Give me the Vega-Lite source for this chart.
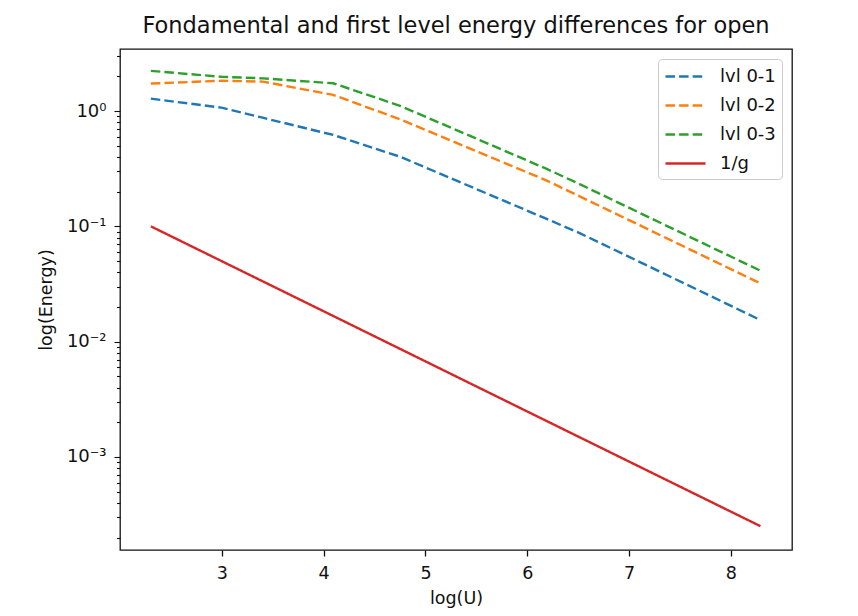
{
  "$schema": "https://vega.github.io/schema/vega-lite/v6.json",
  "width": 672,
  "height": 501,
  "autosize": {"type": "none"},
  "padding": {"left": 120, "top": 49, "right": 66, "bottom": 66},
  "background": "white",
  "title": {
    "text": "Fondamental and first level energy differences for open",
    "font": "DejaVu Sans",
    "fontSize": 22.5,
    "fontWeight": "normal",
    "color": "#111",
    "anchor": "middle",
    "baseline": "alphabetic",
    "offset": -9
  },
  "config": {
    "font": "DejaVu Sans",
    "view": {"stroke": "#111", "strokeWidth": 1.3}
  },
  "data": {
    "values": [
      {"series": "lvl 0-1", "x": 2.303, "y": 1.28},
      {"series": "lvl 0-1", "x": 2.996, "y": 1.07},
      {"series": "lvl 0-1", "x": 3.401, "y": 0.875},
      {"series": "lvl 0-1", "x": 4.094, "y": 0.62},
      {"series": "lvl 0-1", "x": 4.75, "y": 0.402},
      {"series": "lvl 0-1", "x": 6.18, "y": 0.117},
      {"series": "lvl 0-1", "x": 6.52, "y": 0.0869},
      {"series": "lvl 0-1", "x": 8.29, "y": 0.0154},
      {"series": "lvl 0-2", "x": 2.303, "y": 1.73},
      {"series": "lvl 0-2", "x": 2.996, "y": 1.83},
      {"series": "lvl 0-2", "x": 3.401, "y": 1.8},
      {"series": "lvl 0-2", "x": 4.094, "y": 1.38},
      {"series": "lvl 0-2", "x": 4.75, "y": 0.847},
      {"series": "lvl 0-2", "x": 6.18, "y": 0.252},
      {"series": "lvl 0-2", "x": 6.52, "y": 0.181},
      {"series": "lvl 0-2", "x": 8.29, "y": 0.032},
      {"series": "lvl 0-3", "x": 2.303, "y": 2.23},
      {"series": "lvl 0-3", "x": 2.996, "y": 1.98},
      {"series": "lvl 0-3", "x": 3.401, "y": 1.92},
      {"series": "lvl 0-3", "x": 4.094, "y": 1.74},
      {"series": "lvl 0-3", "x": 4.75, "y": 1.11},
      {"series": "lvl 0-3", "x": 6.18, "y": 0.318},
      {"series": "lvl 0-3", "x": 6.52, "y": 0.231},
      {"series": "lvl 0-3", "x": 8.29, "y": 0.0412},
      {"series": "1/g", "x": 2.303, "y": 0.1},
      {"series": "1/g", "x": 4.094, "y": 0.0167},
      {"series": "1/g", "x": 6.18, "y": 0.00207},
      {"series": "1/g", "x": 8.29, "y": 0.000251}
    ]
  },
  "mark": {"type": "line", "strokeWidth": 2.4, "clip": true},
  "encoding": {
    "x": {
      "field": "x",
      "type": "quantitative",
      "scale": {"domain": [2.0, 8.6], "nice": false, "zero": false},
      "axis": {
        "values": [3, 4, 5, 6, 7, 8],
        "grid": false,
        "domain": false,
        "tickColor": "#111",
        "tickSize": 6,
        "tickWidth": 1.3,
        "labelFontSize": 17.5,
        "labelColor": "#111",
        "labelPadding": 8,
        "title": "log(U)",
        "titleFontSize": 17.5,
        "titleFontWeight": "normal",
        "titleColor": "#111",
        "titlePadding": 8
      }
    },
    "y": {
      "field": "y",
      "type": "quantitative",
      "scale": {"type": "log", "domain": [0.000156, 3.45], "nice": false},
      "axis": {
        "values": [0.0002, 0.0003, 0.0004, 0.0005, 0.0006, 0.0007, 0.0008, 0.0009, 0.001, 0.002, 0.003, 0.004, 0.005, 0.006, 0.007, 0.008, 0.009, 0.01, 0.02, 0.03, 0.04, 0.05, 0.06, 0.07, 0.08, 0.09, 0.1, 0.2, 0.3, 0.4, 0.5, 0.6, 0.7, 0.8, 0.9, 1, 2, 3],
        "labelExpr": "abs(log(datum.value)/LN10 - round(log(datum.value)/LN10)) < 0.001 ? '10' + (datum.value > 0.5 ? '⁰' : datum.value > 0.05 ? '⁻¹' : datum.value > 0.005 ? '⁻²' : '⁻³') : ''",
        "labelOverlap": false,
        "grid": false,
        "domain": false,
        "tickColor": "#111",
        "tickWidth": 1.1,
        "tickSize": {
          "condition": {"test": "abs(log(datum.value)/LN10 - round(log(datum.value)/LN10)) < 0.001", "value": 6},
          "value": 3.5
        },
        "labelFontSize": 18,
        "labelColor": "#111",
        "labelPadding": 8,
        "title": "log(Energy)",
        "titleFontSize": 17.5,
        "titleFontWeight": "normal",
        "titleColor": "#111",
        "titlePadding": 11
      }
    },
    "color": {
      "field": "series",
      "type": "nominal",
      "scale": {
        "domain": ["lvl 0-1", "lvl 0-2", "lvl 0-3", "1/g"],
        "range": ["#1f77b4", "#ff7f0e", "#2ca02c", "#d62728"]
      },
      "legend": {
        "title": null,
        "orient": "top-right",
        "offset": 10,
        "padding": 6,
        "fillColor": "white",
        "strokeColor": "#cccccc",
        "cornerRadius": 4,
        "labelFontSize": 18,
        "labelColor": "#111",
        "labelOffset": 33,
        "symbolType": "M-1,0H3",
        "symbolSize": 400,
        "symbolStrokeWidth": 2.4,
        "symbolFillColor": "transparent",
        "rowPadding": 8
      }
    },
    "strokeDash": {
      "field": "series",
      "type": "nominal",
      "scale": {
        "domain": ["lvl 0-1", "lvl 0-2", "lvl 0-3", "1/g"],
        "range": [[9.5, 4.1], [9.5, 4.1], [9.5, 4.1], [1, 0]]
      },
      "legend": {
        "title": null,
        "orient": "top-right",
        "offset": 10,
        "padding": 6,
        "fillColor": "white",
        "strokeColor": "#cccccc",
        "cornerRadius": 4,
        "labelFontSize": 18,
        "labelColor": "#111",
        "labelOffset": 33,
        "symbolType": "M-1,0H3",
        "symbolSize": 400,
        "symbolStrokeWidth": 2.4,
        "symbolFillColor": "transparent",
        "rowPadding": 8
      }
    }
  }
}
